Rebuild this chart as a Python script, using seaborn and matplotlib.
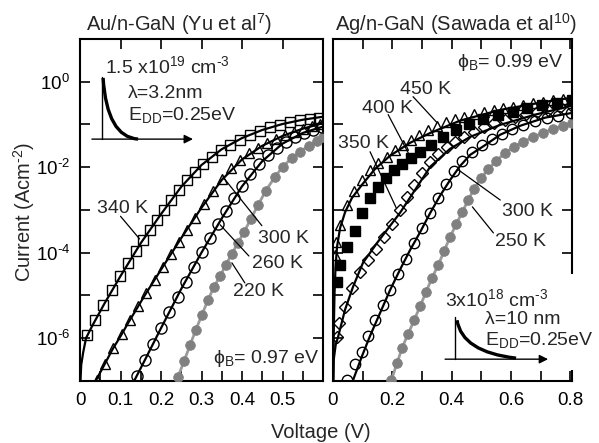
import numpy as np
import pandas as pd
import matplotlib
matplotlib.use("Agg")
import matplotlib.pyplot as plt
import seaborn as sns
from matplotlib.patches import PathPatch, Rectangle
from matplotlib.path import Path
from matplotlib.ticker import FixedLocator, FixedFormatter, NullFormatter

# ---------------- data (voltage in V, log10 of current density) ----------------
# Left panel: Au/n-GaN (Yu et al)
au340_v = [0.017, 0.037, 0.057, 0.079, 0.099, 0.119, 0.138, 0.156, 0.173, 0.190, 0.207, 0.225, 0.244, 0.264,
           0.284, 0.304, 0.326, 0.348, 0.370, 0.395, 0.420, 0.444, 0.469, 0.494, 0.519, 0.543, 0.568, 0.590]
au340_lj = [-5.93, -5.58, -5.23, -4.87, -4.55, -4.24, -3.96, -3.70, -3.47, -3.23, -3.00, -2.77, -2.53, -2.30,
            -2.11, -1.92, -1.76, -1.59, -1.48, -1.36, -1.24, -1.15, -1.05, -1.01, -0.94, -0.89, -0.87, -0.84]
au340_fit_v = [0.001, 0.003, 0.008, 0.015, 0.03, 0.06, 0.10, 0.15, 0.20, 0.25, 0.30, 0.35, 0.40, 0.45, 0.50, 0.55, 0.60]
au340_fit_lj = [-7.05, -6.63, -6.33, -6.0, -5.72, -5.2, -4.55, -3.78, -3.1, -2.46, -1.95, -1.58, -1.32, -1.13, -0.99, -0.89, -0.82]

au300_v = [0.042, 0.062, 0.081, 0.104, 0.123, 0.143, 0.163, 0.185, 0.205, 0.225, 0.244, 0.264, 0.284, 0.306,
           0.328, 0.351, 0.373, 0.395, 0.417, 0.440, 0.462, 0.484, 0.506, 0.528, 0.551, 0.573, 0.593]
au300_lj = [-6.98, -6.61, -6.23, -5.91, -5.58, -5.25, -4.94, -4.64, -4.33, -4.03, -3.75, -3.47, -3.19, -2.86,
            -2.55, -2.27, -2.02, -1.83, -1.66, -1.55, -1.43, -1.34, -1.24, -1.17, -1.10, -1.03, -0.98]
au300_fit_v = [0.039, 0.06, 0.08, 0.10, 0.12, 0.16, 0.2, 0.25, 0.3, 0.35, 0.4, 0.45, 0.5, 0.55, 0.6]
au300_fit_lj = [-7.0, -6.63, -6.27, -5.96, -5.63, -5.0, -4.4, -3.66, -2.95, -2.3, -1.82, -1.5, -1.27, -1.1, -0.97]

au260_v = [0.141, 0.160, 0.180, 0.200, 0.220, 0.242, 0.262, 0.281, 0.301, 0.321, 0.341, 0.360, 0.380, 0.400,
           0.420, 0.442, 0.464, 0.486, 0.509, 0.531, 0.553, 0.575, 0.598]
au260_lj = [-6.89, -6.52, -6.14, -5.77, -5.39, -5.04, -4.69, -4.34, -3.98, -3.66, -3.33, -3.02, -2.72, -2.44,
            -2.16, -1.92, -1.71, -1.55, -1.41, -1.29, -1.20, -1.12, -1.05]
au260_fit_v = [0.134, 0.16, 0.2, 0.25, 0.3, 0.35, 0.4, 0.45, 0.5, 0.55, 0.6]
au260_fit_lj = [-7.0, -6.52, -5.77, -4.85, -4.0, -3.2, -2.45, -1.86, -1.45, -1.2, -1.05]

au220_v = [0.242, 0.257, 0.272, 0.286, 0.301, 0.316, 0.331, 0.346, 0.360, 0.375, 0.390, 0.405, 0.422, 0.440,
           0.459, 0.481, 0.501, 0.523, 0.543, 0.565, 0.585, 0.600]
au220_lj = [-6.91, -6.54, -6.16, -5.81, -5.46, -5.11, -4.80, -4.55, -4.29, -4.03, -3.77, -3.52, -3.21, -2.88,
            -2.55, -2.23, -1.99, -1.78, -1.64, -1.50, -1.38, -1.29]

# Right panel: Ag/n-GaN (Sawada et al)
ag450_v = [0.007, 0.010, 0.024, 0.047, 0.071, 0.098, 0.125, 0.152, 0.182, 0.209, 0.236, 0.264, 0.291, 0.321,
           0.351, 0.382, 0.412, 0.443, 0.476, 0.510, 0.544, 0.574, 0.608, 0.642, 0.676, 0.709, 0.743, 0.777, 0.805]
ag450_lj = [-4.05, -3.75, -3.35, -2.88, -2.55, -2.30, -2.06, -1.90, -1.76, -1.59, -1.48, -1.36, -1.24, -1.12,
            -1.03, -0.94, -0.87, -0.82, -0.75, -0.70, -0.66, -0.61, -0.59, -0.54, -0.49, -0.47, -0.42, -0.40, -0.37]
ag450_fit_v = [0.001, 0.0027, 0.005, 0.0084, 0.0135, 0.024, 0.041, 0.064, 0.098, 0.142, 0.193, 0.260, 0.328,
               0.429, 0.564, 0.699, 0.807]
ag450_fit_lj = [-6.98, -5.81, -4.99, -4.36, -3.87, -3.42, -3.05, -2.72, -2.41, -2.04, -1.73, -1.43, -1.20,
                -0.91, -0.66, -0.49, -0.37]

ag400_v = [0.014, 0.024, 0.047, 0.074, 0.098, 0.125, 0.152, 0.179, 0.206, 0.233, 0.264, 0.294, 0.331, 0.372,
           0.416, 0.459, 0.507, 0.557, 0.608, 0.655, 0.706, 0.757, 0.805]
ag400_lj = [-4.69, -4.29, -3.87, -3.49, -3.07, -2.72, -2.46, -2.25, -2.06, -1.92, -1.78, -1.64, -1.48, -1.29,
            -1.12, -0.98, -0.87, -0.77, -0.70, -0.61, -0.54, -0.49, -0.42]

ag350_v = [0.014, 0.020, 0.041, 0.064, 0.091, 0.118, 0.145, 0.172, 0.199, 0.226, 0.250, 0.274, 0.301, 0.328,
           0.355, 0.385, 0.412, 0.443, 0.476, 0.510, 0.544, 0.581, 0.615, 0.652, 0.689, 0.726, 0.764, 0.801]
ag350_lj = [-5.98, -5.65, -5.27, -4.83, -4.45, -4.17, -3.91, -3.63, -3.33, -3.00, -2.70, -2.41, -2.13, -1.87,
            -1.69, -1.52, -1.41, -1.29, -1.17, -1.05, -0.96, -0.89, -0.82, -0.75, -0.70, -0.66, -0.59, -0.54]
ag350_fit_v = [0.001, 0.0024, 0.0091, 0.0169, 0.0405, 0.0676, 0.101, 0.149, 0.182, 0.226, 0.277, 0.328,
               0.395, 0.463, 0.564, 0.682, 0.807]
ag350_fit_lj = [-6.98, -6.51, -6.16, -5.98, -5.34, -4.80, -4.24, -3.77, -3.47, -3.07, -2.53, -1.99,
                -1.57, -1.29, -1.01, -0.77, -0.56]

ag300_v = [0.047, 0.074, 0.098, 0.118, 0.142, 0.169, 0.193, 0.220, 0.247, 0.274, 0.301, 0.328, 0.355, 0.382,
           0.409, 0.436, 0.470, 0.503, 0.537, 0.571, 0.605, 0.642, 0.682, 0.723, 0.760, 0.801]
ag300_lj = [-6.98, -6.61, -6.33, -5.95, -5.58, -5.23, -4.87, -4.50, -4.15, -3.77, -3.42, -3.07, -2.72, -2.39,
            -2.09, -1.85, -1.64, -1.48, -1.34, -1.22, -1.10, -1.01, -0.91, -0.84, -0.80, -0.73]
ag300_fit_v = [0.068, 0.098, 0.125, 0.159, 0.193, 0.226, 0.260, 0.294, 0.328, 0.361, 0.395, 0.429, 0.463,
               0.514, 0.564, 0.632, 0.716, 0.807]
ag300_fit_lj = [-6.98, -6.42, -5.95, -5.41, -4.87, -4.40, -3.94, -3.52, -3.07, -2.67, -2.30, -1.97, -1.71,
                -1.48, -1.24, -1.03, -0.84, -0.73]

ag250_v = [0.197, 0.216, 0.233, 0.253, 0.274, 0.294, 0.314, 0.334, 0.355, 0.375, 0.395, 0.416, 0.436, 0.456,
           0.476, 0.500, 0.524, 0.551, 0.581, 0.611, 0.642, 0.676, 0.709, 0.743, 0.777, 0.807]
ag250_lj = [-6.98, -6.59, -6.23, -5.91, -5.58, -5.25, -4.92, -4.59, -4.29, -3.96, -3.63, -3.33, -3.05, -2.77,
            -2.51, -2.25, -2.04, -1.85, -1.66, -1.52, -1.41, -1.29, -1.20, -1.10, -1.03, -0.96]

left_xticks = [0, 0.1, 0.2, 0.3, 0.4, 0.5]
left_xticklabels = ["0", "0.1", "0.2", "0.3", "0.4", "0.5"]
right_xticks = [0, 0.2, 0.4, 0.6, 0.8]
right_xticklabels = ["0", "0.2", "0.4", "0.6", "0.8"]
yticks = [1e-6, 1e-4, 1e-2, 1e0]
yticklabels = [r"$10^{\text{-}6}$", r"$10^{\text{-}4}$", r"$10^{\text{-}2}$", r"$10^{0}$"]

# ---------------- style ----------------
sns.set_style("ticks")
plt.rcParams["font.family"] = ["Liberation Sans", "DejaVu Sans"]
plt.rcParams["mathtext.fontset"] = "custom"
plt.rcParams["mathtext.rm"] = "Liberation Sans"
plt.rcParams["mathtext.it"] = "Liberation Sans:italic"
plt.rcParams["mathtext.bf"] = "Liberation Sans:bold"
plt.rcParams["mathtext.sf"] = "Liberation Sans"
plt.rcParams["axes.linewidth"] = 1.5

FS = 14
TICKFS = 13.5
GREY = "#808080"

fig = plt.figure(figsize=(5.99, 4.43), dpi=100)
W, H = 599, 443
axL = fig.add_axes([80 / W, 1 - 380.7 / H, 243 / W, 341.7 / H])
axR = fig.add_axes([333 / W, 1 - 380.7 / H, 239 / W, 341.7 / H])


def J(lj):
    return 10.0 ** np.asarray(lj, dtype=float)


def fit(ax, v, lj, color="k", lw=1.6):
    df = pd.DataFrame({"V": v, "J": J(lj)})
    sns.lineplot(data=df, x="V", y="J", ax=ax, estimator=None, sort=False, color=color, lw=lw, zorder=3)


def pts(ax, v, lj, marker, ms, mfc="none", mec="k", mew=1.0, z=4):
    df = pd.DataFrame({"V": v, "J": J(lj)})
    sns.lineplot(data=df, x="V", y="J", ax=ax, estimator=None, sort=False, linestyle="none",
                 marker=marker, ms=ms, mfc=mfc, mec=mec, mew=mew, color=mec, zorder=z)


for ax in (axL, axR):
    ax.set_yscale("log")
    ax.set_ylim(1e-7, 1e1)

# Left panel
fit(axL, au220_v, au220_lj, color="#9a9a9a", lw=2.0)
pts(axL, au220_v, au220_lj, "o", 7.0, mfc=GREY, mec=GREY, mew=0.5)
fit(axL, au260_fit_v, au260_fit_lj)
pts(axL, au260_v, au260_lj, "o", 8.0)
fit(axL, au300_fit_v, au300_fit_lj)
pts(axL, au300_v, au300_lj, "^", 7.5)
fit(axL, au340_fit_v, au340_fit_lj)
pts(axL, au340_v, au340_lj, "s", 7.5)

# Right panel
fit(axR, ag250_v, ag250_lj, color="#9a9a9a", lw=2.0)
pts(axR, ag250_v, ag250_lj, "o", 7.0, mfc=GREY, mec=GREY, mew=0.5)
fit(axR, ag300_fit_v, ag300_fit_lj)
pts(axR, ag300_v, ag300_lj, "o", 7.5)
fit(axR, ag350_fit_v, ag350_fit_lj)
pts(axR, ag350_v, ag350_lj, "D", 5.8)
pts(axR, ag400_v, ag400_lj, "s", 6.5, mfc="k", mec="k")
fit(axR, ag450_fit_v, ag450_fit_lj)
pts(axR, ag450_v, ag450_lj, "^", 6.5)

# Axes formatting
axL.set_xlim(0, 0.6)
axR.set_xlim(0, 0.806)
axL.xaxis.set_major_locator(FixedLocator(left_xticks))
axL.xaxis.set_major_formatter(FixedFormatter(left_xticklabels))
axL.xaxis.set_minor_locator(FixedLocator([0.05, 0.15, 0.25, 0.35, 0.45, 0.55]))
axR.xaxis.set_major_locator(FixedLocator(right_xticks))
axR.xaxis.set_major_formatter(FixedFormatter(right_xticklabels))
axR.xaxis.set_minor_locator(FixedLocator([0.1, 0.3, 0.5, 0.7]))
for ax in (axL, axR):
    ax.yaxis.set_major_locator(FixedLocator(yticks))
    ax.yaxis.set_minor_locator(FixedLocator([1e-5, 1e-3, 1e-1]))
    ax.yaxis.set_minor_formatter(NullFormatter())
    ax.set_xlabel("")
    ax.set_ylabel("")
    ax.tick_params(which="both", direction="in", length=7, width=1.2, top=True, right=True,
                   labelsize=TICKFS, colors="k")
    ax.tick_params(axis="x", which="major", pad=8)
    ax.tick_params(axis="y", which="major", pad=7)
    for s in ax.spines.values():
        s.set_color("k")
        s.set_linewidth(1.5)
axL.yaxis.set_major_formatter(FixedFormatter(yticklabels))
axR.yaxis.set_major_formatter(NullFormatter())
axL.tick_params(axis="x", which="minor", top=False)
axR.tick_params(axis="x", which="minor", top=True)

# ---------------- annotations ----------------
def label(ax, text, xy, start, end, **kw):
    ax.text(xy[0], xy[1], text, fontsize=FS, ha="left", va="center_baseline", zorder=6, **kw)
    if start is not None:
        ax.annotate("", xy=end, xytext=start,
                    arrowprops=dict(arrowstyle="-", lw=0.9, color="k", shrinkA=0, shrinkB=0), zorder=6)

label(axL, "340 K", (0.042, 10 ** -2.93), (0.100, 10 ** -3.15), (0.147, 10 ** -3.68))
label(axL, "300 K", (0.440, 10 ** -3.63), (0.353, 10 ** -2.23), (0.449, 10 ** -3.37))
label(axL, "260 K", (0.425, 10 ** -4.22), (0.346, 10 ** -3.35), (0.417, 10 ** -4.08))
label(axL, "220 K", (0.378, 10 ** -4.87), (0.375, 10 ** -4.24), (0.407, 10 ** -4.71))
label(axL, "ϕ$_\\mathrm{B}$= 0.97 eV", (0.328, 10 ** -6.40), None, None)
label(axL, "1.5 x10$^{19}$ cm$^{\\text{-}3}$", (0.062, 10 ** 0.40), None, None)
label(axL, "λ=3.2nm", (0.119, 10 ** -0.23), None, None)
label(axL, "E$_\\mathrm{DD}$=0.25eV", (0.119, 10 ** -0.73), None, None)

label(axR, "450 K", (0.226, 10 ** -0.14), (0.270, 10 ** -0.35), (0.351, 10 ** -0.96))
label(axR, "400 K", (0.098, 10 ** -0.59), (0.186, 10 ** -0.77), (0.257, 10 ** -1.71))
label(axR, "350 K", (0.017, 10 ** -1.41), (0.125, 10 ** -1.64), (0.213, 10 ** -2.95))
label(axR, "300 K", (0.571, 10 ** -3.0), (0.422, 10 ** -2.06), (0.564, 10 ** -2.77))
label(axR, "250 K", (0.547, 10 ** -3.70), (0.470, 10 ** -2.93), (0.541, 10 ** -3.54))
label(axR, "ϕ$_\\mathrm{B}$= 0.99 eV", (0.419, 10 ** 0.52), None, None)

# white inset box on the right panel (hides the spine, as in the original)
axR.add_patch(Rectangle((0.46, 0.032), 0.58, 0.28, transform=axR.transAxes, fc="white", ec="none",
                        zorder=2.6, clip_on=False))
label(axR, "3x10$^{18}$ cm$^{\\text{-}3}$", (0.378, 10 ** -5.04), None, None, clip_on=False)
label(axR, "λ=10 nm", (0.514, 10 ** -5.51), None, None, clip_on=False)
label(axR, "E$_\\mathrm{DD}$=0.25eV", (0.514, 10 ** -6.0), None, None, clip_on=False)


def mini_diagram(ax, vx, vy0, vy1, ax0, ax1, c0, c1, c2):
    ax.plot([vx, vx], [vy0, vy1], transform=ax.transAxes, color="k", lw=1.0, zorder=7, clip_on=False)
    ax.annotate("", xy=(ax1, vy1), xytext=(ax0, vy1), xycoords="axes fraction", zorder=7,
                arrowprops=dict(arrowstyle="-|>", color="k", lw=1.0, mutation_scale=13, shrinkA=0, shrinkB=0))
    path = Path([c0, c1, c2], [Path.MOVETO, Path.CURVE3, Path.CURVE3])
    ax.add_patch(PathPatch(path, fc="none", ec="k", lw=2.4, transform=ax.transAxes, zorder=7, clip_on=False))

mini_diagram(axL, 0.0905, 0.889, 0.707, 0.049, 0.465, (0.095, 0.886), (0.111, 0.713), (0.239, 0.707))
mini_diagram(axR, 0.510, 0.186, 0.063, 0.469, 0.900, (0.519, 0.177), (0.540, 0.084), (0.766, 0.066))

# titles and axis labels
fig.text(179 / W, 1 - 24 / H, "Au/n-GaN (Yu et al$^{7}$)", fontsize=14.5, ha="center", va="center")
fig.text(456 / W, 1 - 24 / H, "Ag/n-GaN (Sawada et al$^{10}$)", fontsize=14.5, ha="center", va="center")
fig.text(321 / W, 1 - 432 / H, "Voltage (V)", fontsize=14.5, ha="center", va="center")
fig.text(24 / W, 1 - 212 / H, "Current (Acm$^{\\text{-}2}$)", fontsize=14.5, ha="center", va="center", rotation=90)

fig.savefig("out.png", dpi=100)
